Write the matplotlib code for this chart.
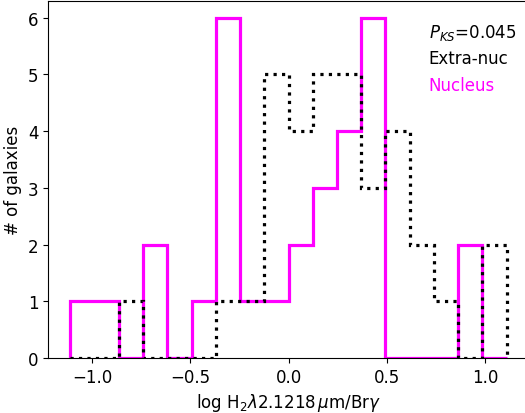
import numpy as np
import matplotlib
matplotlib.use("Agg")
import matplotlib.pyplot as plt

# bin edges of log H2/Brgamma (18 bins)
bin_lo = -1.11
bin_hi = 1.11
n_bins = 18
edges = np.linspace(bin_lo, bin_hi, n_bins + 1)

# galaxies per bin
nucleus = [1, 1, 0, 2, 0, 1, 6, 1, 1, 2, 3, 4, 6, 0, 0, 0, 2, 0]
extra_nuc = [0, 0, 1, 0, 0, 0, 1, 1, 5, 4, 5, 5, 3, 4, 2, 1, 0, 2]
p_ks = 0.045

plt.rcParams['font.size'] = 12

fig = plt.figure(figsize=(5.25, 4.14), dpi=100)
# right spine falls just outside the saved image, as in the original crop
ax = fig.add_axes([48 / 525, 55 / 414, 482 / 525, 357.5 / 414])

ax.stairs(nucleus, edges, color='#ff00ff', lw=2.3, baseline=0)
ax.stairs(extra_nuc, edges, color='k', lw=2.3, ls=':', baseline=0)

ax.set_xlim(-1.224, 1.229)
ax.set_ylim(0, 6.3)
ax.set_xticks([-1.0, -0.5, 0.0, 0.5, 1.0])
ax.set_yticks(range(7))
ax.set_xlabel(r'log H$_2\lambda$2.1218$\,\mu$m/Br$\gamma$')
ax.set_ylabel('# of galaxies')

ax.text(0.79, 0.912, r'$P_{KS}$=' + f'{p_ks:.3f}', transform=ax.transAxes,
        va='center', ha='left')
ax.text(0.79, 0.840, 'Extra-nuc', transform=ax.transAxes, va='center', ha='left')
ax.text(0.79, 0.763, 'Nucleus', transform=ax.transAxes, va='center', ha='left',
        color='#ff00ff')

fig.savefig('out.png', dpi=100)
